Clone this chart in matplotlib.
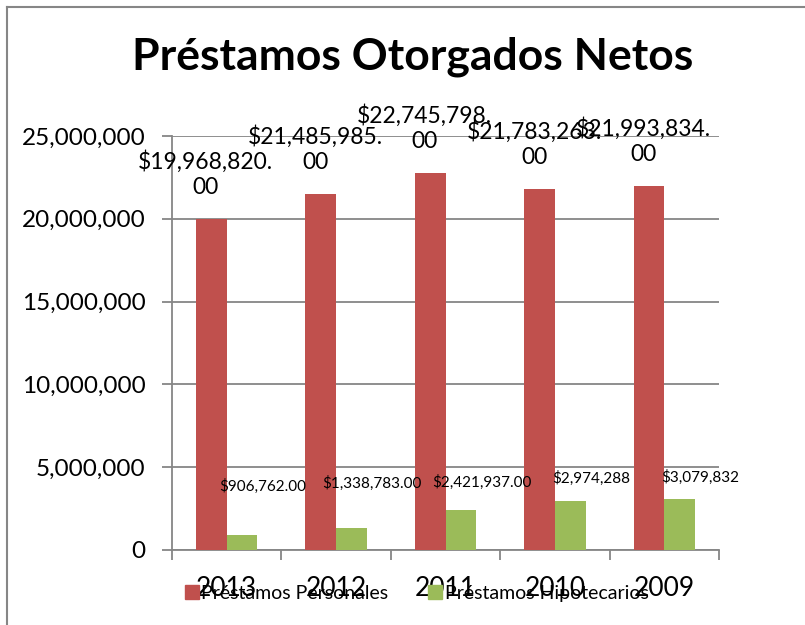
import numpy as np
import matplotlib.pyplot as plt
from matplotlib.lines import Line2D
from matplotlib.ticker import FuncFormatter

# Data
years = ['2013', '2012', '2011', '2010', '2009']
personales = [19968820.00, 21485985.00, 22745798.00, 21783263.00, 21993834.00]
hipotecarios = [906762.00, 1338783.00, 2421937.00, 2974288, 3079832]
label_personales = ['$19,968,820.\n00', '$21,485,985.\n00', '$22,745,798.\n00',
                    '$21,783,263.\n00', '$21,993,834.\n00']
label_hipotecarios = ['$906,762.00', '$1,338,783.00', '$2,421,937.00',
                      '$2,974,288', '$3,079,832']

RED = '#C0504D'
GREEN = '#9BBB59'
GRAY = '#868686'

plt.rcParams['font.family'] = ['Lato', 'DejaVu Sans']

fig = plt.figure(figsize=(8.05, 6.25), dpi=100)
ax = fig.add_axes([172 / 805, 75 / 625, 547 / 805, 414 / 625])

x = np.arange(len(years))
w = 0.28
bars_p = ax.bar(x - w / 2, personales, w, color=RED, zorder=3)
bars_h = ax.bar(x + w / 2, hipotecarios, w, color=GREEN, zorder=3)

ax.set_xlim(-0.5, len(years) - 0.5)
ax.set_ylim(0, 25000000)
ax.set_yticks(np.arange(0, 25000001, 5000000))
ax.yaxis.set_major_formatter(FuncFormatter(lambda v, p: f'{int(v):,}'))
ax.set_xticks(x)
ax.set_xticklabels(years)
ax.set_xticks(np.arange(-0.5, len(years), 1.0), minor=True)

ax.grid(axis='y', color=GRAY, linewidth=1.3, zorder=0)
for s in ['top', 'right']:
    ax.spines[s].set_visible(False)
for s in ['left', 'bottom']:
    ax.spines[s].set_color(GRAY)
    ax.spines[s].set_linewidth(1.3)

ax.tick_params(axis='y', length=7, width=1.3, color=GRAY, labelsize=17.5, pad=12)
ax.tick_params(axis='x', which='major', length=0, labelsize=19, pad=19)
ax.tick_params(axis='x', which='minor', length=7, width=1.3, color=GRAY)

# red value labels (wrapped, above bars)
for b, lab in zip(bars_p, label_personales):
    ax.annotate(lab, (b.get_x() + b.get_width() / 2, b.get_height()),
                xytext=(-4, 15), textcoords='offset points',
                ha='center', va='bottom', fontsize=16.5, linespacing=1.25)

# green value labels
for b, lab, dy in zip(bars_h, label_hipotecarios, [3.85e6, 4.0e6, 4.1e6, 4.3e6, 4.4e6]):
    ax.text(b.get_x() + b.get_width() / 2 + 0.19, dy, lab,
            ha='center', va='center', fontsize=11)

fig.text(0.512, 0.909, 'Préstamos Otorgados Netos', ha='center', va='center',
         fontsize=32, fontweight='bold')

handles = [Line2D([], [], marker='s', color='none', markerfacecolor=RED,
                  markeredgecolor=RED, markersize=9.5),
           Line2D([], [], marker='s', color='none', markerfacecolor=GREEN,
                  markeredgecolor=GREEN, markersize=9.5)]
fig.legend(handles, ['Préstamos Personales', 'Préstamos Hipotecarios'],
           loc='center', bbox_to_anchor=(0.517, 0.051), ncol=2, frameon=False,
           fontsize=14, handlelength=0.8, handletextpad=0.1, columnspacing=2.0)

# outer chart border (left and top visible)
fig.add_artist(Line2D([7 / 805, 7 / 805], [0, 1 - 7 / 625], color=GRAY, linewidth=1.5))
fig.add_artist(Line2D([7 / 805, 1], [1 - 7 / 625, 1 - 7 / 625], color=GRAY, linewidth=1.5))

fig.savefig('out.png', dpi=100)
